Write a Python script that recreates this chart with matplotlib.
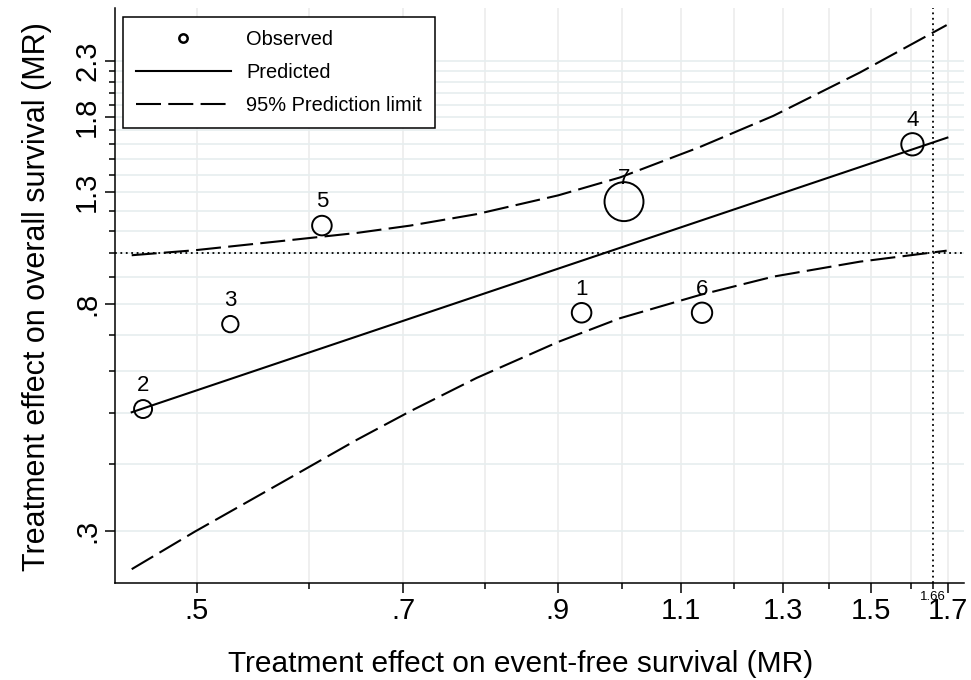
import matplotlib
matplotlib.use("Agg")
import matplotlib.pyplot as plt
from matplotlib.lines import Line2D

plt.rcParams['font.family'] = ['Liberation Sans', 'DejaVu Sans']

# observed trials: treatment effect (MR) on EFS and OS, weight ~ marker area
trial = ['1', '2', '3', '4', '5', '6', '7']
efs_mr = [0.936, 0.458, 0.528, 1.605, 0.613, 1.139, 1.003]
os_mr = [0.771, 0.508, 0.734, 1.600, 1.125, 0.771, 1.248]
weight = [96, 81, 67, 125, 96, 104, 380]

# predicted line (straight on log-log scale)
pred_x = [0.4496, 1.699]
pred_y = [0.501, 1.647]

# 95% prediction limits
limit_x = [0.4496, 0.4984, 0.5756, 0.6487, 0.7076, 0.7888, 0.9010, 0.9964, 1.1352, 1.2793, 1.4734, 1.6970]
upper_y = [0.9893, 1.0110, 1.0530, 1.0896, 1.1247, 1.1821, 1.2824, 1.3858, 1.5815, 1.8097, 2.1842, 2.6821]
lower_y = [0.2538, 0.2987, 0.3709, 0.4444, 0.5028, 0.5813, 0.6795, 0.7529, 0.8329, 0.9017, 0.9622, 1.0091]

stsp = 1.66  # surrogate threshold effect

xmajor = [0.5, 0.7, 0.9, 1.1, 1.3, 1.5, 1.7]
xmajor_lab = ['.5', '.7', '.9', '1.1', '1.3', '1.5', '1.7']
xminor = [0.6, 0.8, 1.0, 1.2, 1.4, 1.6]
ymajor = [0.3, 0.8, 1.3, 1.8, 2.3]
ymajor_lab = ['.3', '.8', '1.3', '1.8', '2.3']
yminor = [0.4, 0.5, 0.6, 0.7, 0.9, 1.0, 1.1, 1.2, 1.4, 1.5, 1.6, 1.7, 1.9, 2.0, 2.1, 2.2]

fig = plt.figure(figsize=(9.71, 6.8), dpi=100)
ax = fig.add_axes([0.1184, 0.1426, 0.8744, 0.8456])
ax.set_xscale('log')
ax.set_yscale('log')
ax.set_xlim(0.4375, 1.7457)
ax.set_ylim(0.239, 2.888)

for v in xmajor + xminor:
    ax.axvline(v, color='#ececec', lw=1.2, zorder=0)
for v in ymajor + yminor:
    ax.axhline(v, color='#e6eeef', lw=1.2, zorder=0)

ax.axhline(1.0, color='black', lw=1.3, dashes=(1, 2.0), zorder=1)
ax.axvline(stsp, color='black', lw=1.3, dashes=(1, 2.0), zorder=1)

ax.plot(pred_x, pred_y, color='black', lw=1.5, zorder=3)
ax.plot(limit_x, upper_y, color='black', lw=1.5, dashes=(12, 3.5), zorder=3)
ax.plot(limit_x, lower_y, color='black', lw=1.5, dashes=(12, 3.5), zorder=3)

ax.scatter(efs_mr, os_mr, s=[w * 2.07 for w in weight], facecolors='none',
           edgecolors='black', linewidths=1.4, zorder=4)
for t, xv, yv in zip(trial, efs_mr, os_mr):
    ax.annotate(t, (xv, yv), xytext=(0, 17), textcoords='offset points',
                ha='center', va='center', fontsize=16, zorder=5)

ax.set_xticks(xmajor, xmajor_lab)
ax.set_xticks(xminor + [stsp], [''] * len(xminor) + ['1.66'], minor=True)
ax.set_yticks(ymajor, ymajor_lab)
ax.set_yticks(yminor, [''] * len(yminor), minor=True)
ax.tick_params(which='major', length=7, width=1.1, labelsize=21, pad=3)
ax.tick_params(which='minor', length=4, width=1.1, labelsize=9.5, pad=2)
for lab in ax.get_yticklabels():
    lab.set_rotation(90)
    lab.set_va('center')

for s in ['top', 'right']:
    ax.spines[s].set_visible(False)
for s in ['left', 'bottom']:
    ax.spines[s].set_linewidth(1.1)

ax.set_xlabel('Treatment effect on event-free survival (MR)', fontsize=21.5, labelpad=18)
ax.set_ylabel('Treatment effect on overall survival (MR)', fontsize=22, labelpad=15)
ax.xaxis.label.set_x(0.478)
ax.yaxis.label.set_y(0.498)

handles = [
    Line2D([], [], marker='o', ls='none', mfc='none', mec='black', ms=6, mew=1.8),
    Line2D([], [], color='black', lw=1.5),
    Line2D([], [], color='black', lw=1.5, dashes=(12, 3.5)),
]
leg = ax.legend(handles, ['Observed', 'Predicted', '95% Prediction limit'],
                loc='upper left', bbox_to_anchor=(0.0094, 0.984), borderaxespad=0,
                fontsize=14.4, handlelength=4.75, handletextpad=0.75, labelspacing=0.7,
                borderpad=0.65, fancybox=False, framealpha=1, edgecolor='black')
leg.get_frame().set_linewidth(1.1)

fig.savefig('out.png', dpi=100)
